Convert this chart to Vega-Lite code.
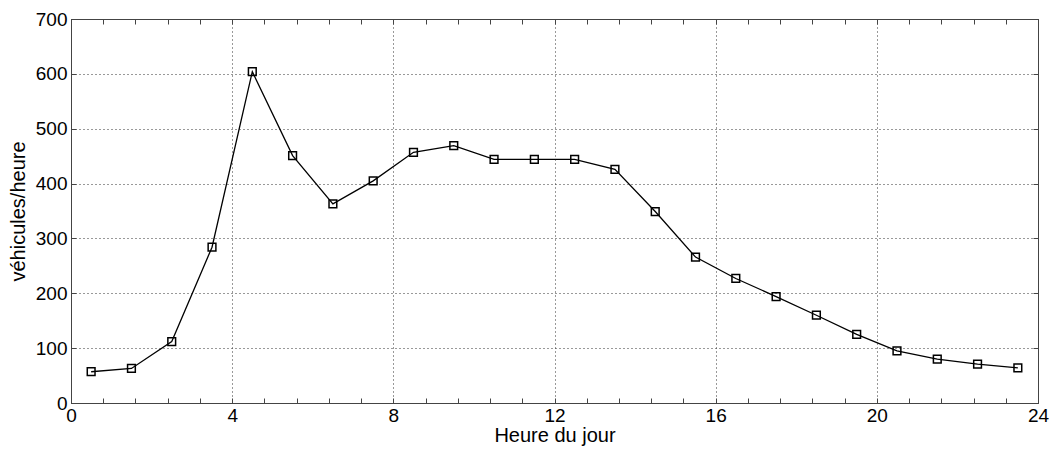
{
  "$schema": "https://vega.github.io/schema/vega-lite/v6.json",
  "width": 967,
  "height": 384,
  "autosize": {"type": "none"},
  "padding": {"left": 71, "top": 19, "right": 14, "bottom": 46},
  "background": "white",
  "config": {
    "font": "Liberation Sans",
    "view": {"stroke": "#444444", "strokeWidth": 1},
    "axis": {
      "labelFont": "Liberation Sans",
      "labelFontSize": 19,
      "labelColor": "black",
      "titleFont": "Liberation Sans",
      "titleFontSize": 20,
      "titleFontWeight": "normal",
      "titleColor": "black",
      "domainColor": "#444444",
      "tickColor": "#444444",
      "tickWidth": 1,
      "tickSize": -5,
      "gridColor": "#333333",
      "gridDash": [1, 3],
      "gridWidth": 1
    }
  },
  "data": {
    "values": [
      {"heure": 0.5, "vehicules": 57},
      {"heure": 1.5, "vehicules": 63},
      {"heure": 2.5, "vehicules": 112},
      {"heure": 3.5, "vehicules": 284},
      {"heure": 4.5, "vehicules": 604},
      {"heure": 5.5, "vehicules": 451},
      {"heure": 6.5, "vehicules": 363},
      {"heure": 7.5, "vehicules": 405},
      {"heure": 8.5, "vehicules": 457},
      {"heure": 9.5, "vehicules": 469},
      {"heure": 10.5, "vehicules": 444},
      {"heure": 11.5, "vehicules": 444},
      {"heure": 12.5, "vehicules": 444},
      {"heure": 13.5, "vehicules": 426},
      {"heure": 14.5, "vehicules": 349},
      {"heure": 15.5, "vehicules": 266},
      {"heure": 16.5, "vehicules": 227},
      {"heure": 17.5, "vehicules": 194},
      {"heure": 18.5, "vehicules": 160},
      {"heure": 19.5, "vehicules": 125},
      {"heure": 20.5, "vehicules": 95},
      {"heure": 21.5, "vehicules": 80},
      {"heure": 22.5, "vehicules": 71},
      {"heure": 23.5, "vehicules": 64}
    ]
  },
  "resolve": {"axis": {"x": "independent", "y": "independent"}},
  "layer": [
    {
      "mark": {"type": "line", "color": "black", "strokeWidth": 1.3},
      "encoding": {
        "x": {
          "field": "heure",
          "type": "quantitative",
          "scale": {"domain": [0, 24], "nice": false, "zero": false},
          "axis": {
            "title": "Heure du jour",
            "orient": "bottom",
            "values": [0, 0.8, 1.6, 2.4, 3.2, 4, 4.8, 5.6, 6.4, 7.2, 8, 8.8, 9.6, 10.4, 11.2, 12, 12.8, 13.6, 14.4, 15.2, 16, 16.8, 17.6, 18.4, 19.2, 20, 20.8, 21.6, 22.4, 23.2, 24],
            "labelExpr": "datum.value % 4 === 0 ? datum.value : ''",
            "labelPadding": 8,
            "labelFlush": false,
            "labelOverlap": false,
            "titlePadding": 0,
            "grid": true,
            "gridOpacity": {"condition": {"test": "datum.value % 4 === 0", "value": 1}, "value": 0}
          }
        },
        "y": {
          "field": "vehicules",
          "type": "quantitative",
          "scale": {"domain": [0, 700], "nice": false},
          "axis": {
            "title": "véhicules/heure",
            "orient": "left",
            "values": [0, 100, 200, 300, 400, 500, 600, 700],
            "labelPadding": 9,
            "labelFlush": false,
            "labelOverlap": false,
            "titlePadding": 7,
            "grid": true
          }
        }
      }
    },
    {
      "mark": {"type": "point", "shape": "square", "filled": false, "color": "black", "size": 60, "strokeWidth": 1.5, "opacity": 1},
      "encoding": {
        "x": {"field": "heure", "type": "quantitative", "axis": null},
        "y": {"field": "vehicules", "type": "quantitative", "axis": null}
      }
    },
    {
      "mark": {"type": "point", "opacity": 0},
      "encoding": {
        "x": {
          "field": "heure",
          "type": "quantitative",
          "axis": {
            "orient": "top",
            "title": null,
            "labels": false,
            "grid": false,
            "values": [0, 0.8, 1.6, 2.4, 3.2, 4, 4.8, 5.6, 6.4, 7.2, 8, 8.8, 9.6, 10.4, 11.2, 12, 12.8, 13.6, 14.4, 15.2, 16, 16.8, 17.6, 18.4, 19.2, 20, 20.8, 21.6, 22.4, 23.2, 24]
          }
        },
        "y": {
          "field": "vehicules",
          "type": "quantitative",
          "axis": {
            "orient": "right",
            "title": null,
            "labels": false,
            "grid": false,
            "values": [0, 100, 200, 300, 400, 500, 600, 700]
          }
        }
      }
    }
  ]
}
